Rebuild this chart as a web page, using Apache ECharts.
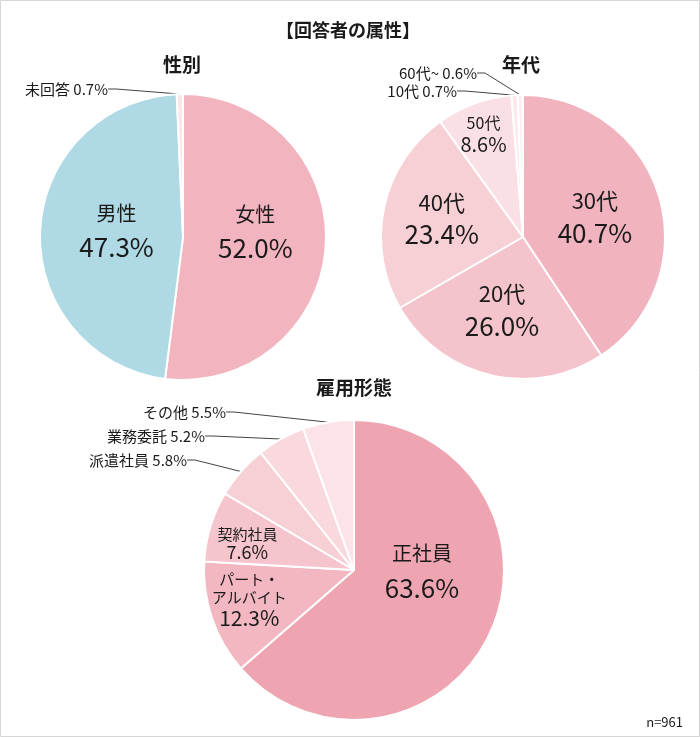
<!DOCTYPE html>
<html><head><meta charset="utf-8">
<script src="https://cdn.jsdelivr.net/npm/echarts@6/dist/echarts.min.js"></script>
<style>html,body{margin:0;padding:0;background:#fff}#c{width:700px;height:737px}</style>
</head><body><div id="c"></div>
<script>
// ---- data ----
const mainTitle = '【回答者の属性】';
const chartTitles = ['性別', '年代', '雇用形態'];
const genderCats = ['女性', '男性', '未回答'];
const genderVals = [52.0, 47.3, 0.7];
const ageCats = ['30代', '20代', '40代', '50代', '10代', '60代~'];
const ageVals = [40.7, 26.0, 23.4, 8.6, 0.7, 0.6];
const empCats = ['正社員', 'パート・アルバイト', '契約社員', '派遣社員', '業務委託', 'その他'];
const empVals = [63.6, 12.3, 7.6, 5.8, 5.2, 5.5];
const sampleText = 'n=961';

// ---- styles ----
const FONT = '"Noto Sans CJK JP", "Noto Sans", sans-serif';
const genderColors = ['#f2b5bf', '#aed9e5', '#fbe7ea'];
const ageColors = ['#f1b4be', '#f4c3cb', '#f7d0d6', '#fae0e4', '#fce9ec', '#fdf0f2'];
const empColors = ['#efa5b1', '#f2b7c0', '#f5c4cc', '#f7d0d6', '#f9d9de', '#fbe3e7'];

// label kinds per slice: rich key for name / value, or 'out'
const genderKinds = ['big', 'big', 'out'];
const ageKinds = ['big', 'big', 'big', 'mid', 'out', 'out'];
const empKinds = ['big', 'mid', 'small', 'out', 'out', 'out'];

// label placement tweaks (inside: offset from default; outside: right-edge anchor)
const genderAdj = [{dx: -2, dy: -12}, {dx: 8, dy: -5}, {x: 108, y: 89}];
const ageAdj = [{dx: 1, dy: 0}, {dx: -4, dy: 0}, {dx: -9, dy: -4}, {dx: -14, dy: -34}, {x: 457, y: 91}, {x: 477, y: 73}];
const empAdj = [{dx: -3, dy: -33}, {dx: -31, dy: 5}, {dx: -32, dy: -5}, {x: 187, y: 460}, {x: 205, y: 436}, {x: 226, y: 412}];

function fmtName(n) { return n.replace('・', '・\n'); }

function buildData(cats, vals, colors, kinds) {
  return cats.map((c, i) => {
    const k = kinds[i];
    const v = vals[i].toFixed(1) + '%';
    let label, labelLine;
    if (k === 'out') {
      label = {position: 'outside', formatter: '{o|' + c + ' ' + v + '}'};
      labelLine = {show: true};
    } else {
      const nm = fmtName(c).split('\n').map(s => '{' + k + 'N|' + s + '}').join('\n');
      label = {position: 'inside', formatter: nm + '\n{' + k + 'V|' + v + '}'};
      labelLine = {show: false};
    }
    return {name: c, value: vals[i], itemStyle: {color: colors[i]}, label: label, labelLine: labelLine};
  });
}

function mkLayout(adj) {
  return function (p) {
    const a = adj[p.dataIndex];
    if (!a) return {};
    if (a.x != null) return {x: a.x, y: a.y, align: 'right', verticalAlign: 'middle'};
    const r = p.labelRect;
    return {x: r.x + r.width / 2 + a.dx, y: r.y + r.height / 2 + a.dy, align: 'center', verticalAlign: 'middle'};
  };
}

function st(size, lh) { return {fontSize: size, lineHeight: lh, color: '#1a1a1a', fontFamily: FONT}; }

const rich = {
  o: {fontSize: 15, color: '#1a1a1a', fontFamily: FONT},
  bigN: st(20, 34), bigV: st(26, 34),
  midN: st(16, 20), midV: st(20, 22),
  smallN: st(15, 18), smallV: st(18, 18)
};
const richAge = Object.assign({}, rich, {
  bigN: st(22, 32), bigV: st(26, 32),
  midN: st(16, 20), midV: st(20, 22)
});
const richEmp = Object.assign({}, rich, {
  bigN: st(20, 34), bigV: st(26, 34),
  midN: st(15, 18), midV: st(21, 24)
});

function pieSeries(name, center, radius, data, richStyle, adj) {
  return {
    type: 'pie', name: name, center: center, radius: radius,
    startAngle: 90, clockwise: true, avoidLabelOverlap: false,
    silent: true, animation: false,
    itemStyle: {borderColor: '#fff', borderWidth: 2},
    label: {show: true, rich: richStyle, fontFamily: FONT, color: '#1a1a1a'},
    labelLine: {show: true, length: 8, length2: 8, lineStyle: {color: '#444', width: 1}},
    labelLayout: mkLayout(adj),
    data: data
  };
}

function titleText(text, x, y, size) {
  return {type: 'text', x: x, y: y, silent: true,
    style: {text: text, fontSize: size, fontWeight: 'bold', fill: '#1a1a1a', fontFamily: FONT, align: 'center', verticalAlign: 'middle'}};
}

const option = {
  backgroundColor: '#fff',
  animation: false,
  graphic: [
    {type: 'rect', shape: {x: 0.5, y: 0.5, width: 699, height: 736}, style: {fill: null, stroke: '#d6d6d6', lineWidth: 1}, silent: true},
    titleText(mainTitle, 348, 30, 18),
    titleText(chartTitles[0], 182, 65, 19),
    titleText(chartTitles[1], 521, 65, 19),
    titleText(chartTitles[2], 354, 388, 19),
    {type: 'text', right: 17, bottom: 8, style: {text: sampleText, fontSize: 13, fill: '#1a1a1a', fontFamily: FONT}}
  ],
  series: [
    pieSeries('性別', [183, 237], 143, buildData(genderCats, genderVals, genderColors, genderKinds), rich, genderAdj),
    pieSeries('年代', [523, 237], 142, buildData(ageCats, ageVals, ageColors, ageKinds), richAge, ageAdj),
    pieSeries('雇用形態', [354, 570], 150, buildData(empCats, empVals, empColors, empKinds), richEmp, empAdj)
  ]
};
const chart = echarts.init(document.getElementById('c'), null, {renderer: 'canvas'});
chart.setOption(option);
</script>
</body></html>
